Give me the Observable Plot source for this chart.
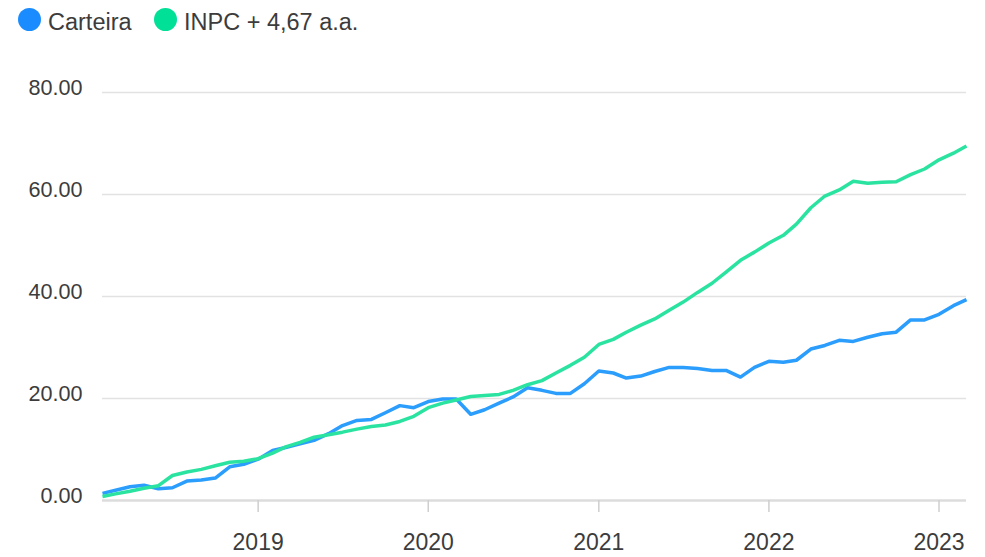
<!DOCTYPE html>
<html>
<head>
<meta charset="utf-8">
<script src="https://cdn.jsdelivr.net/npm/d3@7"></script>
<script src="https://cdn.jsdelivr.net/npm/@observablehq/plot@0.6"></script>
<style>
  html, body { margin: 0; padding: 0; background: #fff; }
  body { width: 986px; height: 557px; position: relative; overflow: hidden; font-family: "Liberation Sans", Arial, sans-serif; }
  #legend { position: relative; height: 40px; width: 986px; }
  .dot { position: absolute; width: 23px; height: 23px; border-radius: 50%; top: 7.5px; }
  .lab { position: absolute; top: 11px; font-size: 23.5px; line-height: 23.5px; color: #3c3c3c; white-space: nowrap; }
  #edge { position: absolute; left: 985px; top: 0; width: 1px; height: 557px; background: #d3ddd3; }
</style>
</head>
<body>
<div id="legend"></div>
<div id="chart"></div>
<div id="edge"></div>
<script>
const seriesNames = ["Carteira", "INPC + 4,67 a.a."];
const seriesColors = ["#2b9dfd", "#2ae3a0"];
const legendColors = ["#1a8cff", "#00e096"];

const months = [
  "2018-02","2018-03","2018-04","2018-05","2018-06","2018-07","2018-08","2018-09","2018-10","2018-11","2018-12",
  "2019-01","2019-02","2019-03","2019-04","2019-05","2019-06","2019-07","2019-08","2019-09","2019-10","2019-11","2019-12",
  "2020-01","2020-02","2020-03","2020-04","2020-05","2020-06","2020-07","2020-08","2020-09","2020-10","2020-11","2020-12",
  "2021-01","2021-02","2021-03","2021-04","2021-05","2021-06","2021-07","2021-08","2021-09","2021-10","2021-11","2021-12",
  "2022-01","2022-02","2022-03","2022-04","2022-05","2022-06","2022-07","2022-08","2022-09","2022-10","2022-11","2022-12",
  "2023-01","2023-02","2023-03"
];

const carteira = [
  1.4, 2.0, 2.7, 3.0, 2.3, 2.5, 3.8, 4.0, 4.4, 6.6, 7.1,
  8.1, 9.8, 10.4, 11.1, 11.8, 13.1, 14.7, 15.7, 15.9, 17.2, 18.6, 18.2,
  19.4, 19.9, 19.9, 16.9, 17.8, 19.1, 20.3, 22.1, 21.6, 21.0, 21.0, 22.9,
  25.4, 25.0, 24.0, 24.4, 25.3, 26.1, 26.1, 25.9, 25.5, 25.5, 24.2, 26.1,
  27.3, 27.1, 27.5, 29.7, 30.4, 31.4, 31.2, 32.0, 32.7, 33.0, 35.4, 35.4,
  36.5, 38.2, 39.4
];

const inpc = [
  0.8, 1.3, 1.8, 2.4, 2.9, 4.9, 5.6, 6.1, 6.8, 7.5, 7.7,
  8.2, 9.3, 10.5, 11.4, 12.4, 12.9, 13.4, 14.0, 14.5, 14.8, 15.5, 16.5,
  18.2, 19.1, 19.7, 20.4, 20.6, 20.8, 21.6, 22.7, 23.5, 25.0, 26.5, 28.1,
  30.6, 31.6, 33.0, 34.4, 35.6, 37.3, 38.9, 40.8, 42.6, 44.8, 47.1, 48.7,
  50.5, 52.0, 54.2, 57.4, 59.7, 60.9, 62.6, 62.2, 62.4, 62.5, 63.9, 65.0,
  66.8, 68.1, 69.5
];

const yTicks = [0, 20, 40, 60, 80];
const xTickYears = ["2019", "2020", "2021", "2022", "2023"];

// legend
const legend = document.getElementById("legend");
const legendPos = [{dot: 18, lab: 48}, {dot: 153.5, lab: 184}];
seriesNames.forEach((name, i) => {
  const d = document.createElement("div");
  d.className = "dot";
  d.style.left = legendPos[i].dot + "px";
  d.style.background = legendColors[i];
  legend.appendChild(d);
  const t = document.createElement("div");
  t.className = "lab";
  t.style.left = legendPos[i].lab + "px";
  t.textContent = name;
  legend.appendChild(t);
});

const parse = d3.utcParse("%Y-%m");
const data = [];
months.forEach((m, i) => data.push({date: parse(m), value: carteira[i], series: seriesNames[0]}));
months.forEach((m, i) => data.push({date: parse(m), value: inpc[i], series: seriesNames[1]}));

const xTicks = xTickYears.map(y => d3.utcParse("%Y")(y));

const chart = Plot.plot({
  width: 986,
  height: 517,
  marginLeft: 102,
  marginRight: 20,
  marginTop: 52,
  marginBottom: 57,
  style: {fontFamily: '"Liberation Sans", Arial, sans-serif', background: "#fff", overflow: "visible"},
  x: {type: "utc", domain: [parse(months[0]), parse(months[months.length - 1])]},
  y: {domain: [0, 80]},
  color: {domain: seriesNames, range: seriesColors},
  marks: [
    Plot.ruleY(yTicks.filter(d => d > 0), {stroke: "#e2e2e2", strokeWidth: 1.6}),
    Plot.ruleY([0], {stroke: "#dcdcdc", strokeWidth: 2.4}),
    Plot.axisY({ticks: yTicks, tickFormat: d => d.toFixed(2), tickSize: 0, tickPadding: 20, fontSize: 21.6, fill: "#3c3c3c", dy: -4.5, label: null}),
    Plot.axisX({ticks: xTicks, tickFormat: "%Y", tickSize: 12, tickPadding: 21, fontSize: 23, stroke: "#cfcfcf", strokeWidth: 1.5, fill: "#3c3c3c", label: null}),
    Plot.line(data, {x: "date", y: "value", z: "series", stroke: "series", strokeWidth: 3.5, strokeLinejoin: "round", strokeLinecap: "butt"})
  ]
});
document.getElementById("chart").appendChild(chart);
</script>
</body>
</html>
